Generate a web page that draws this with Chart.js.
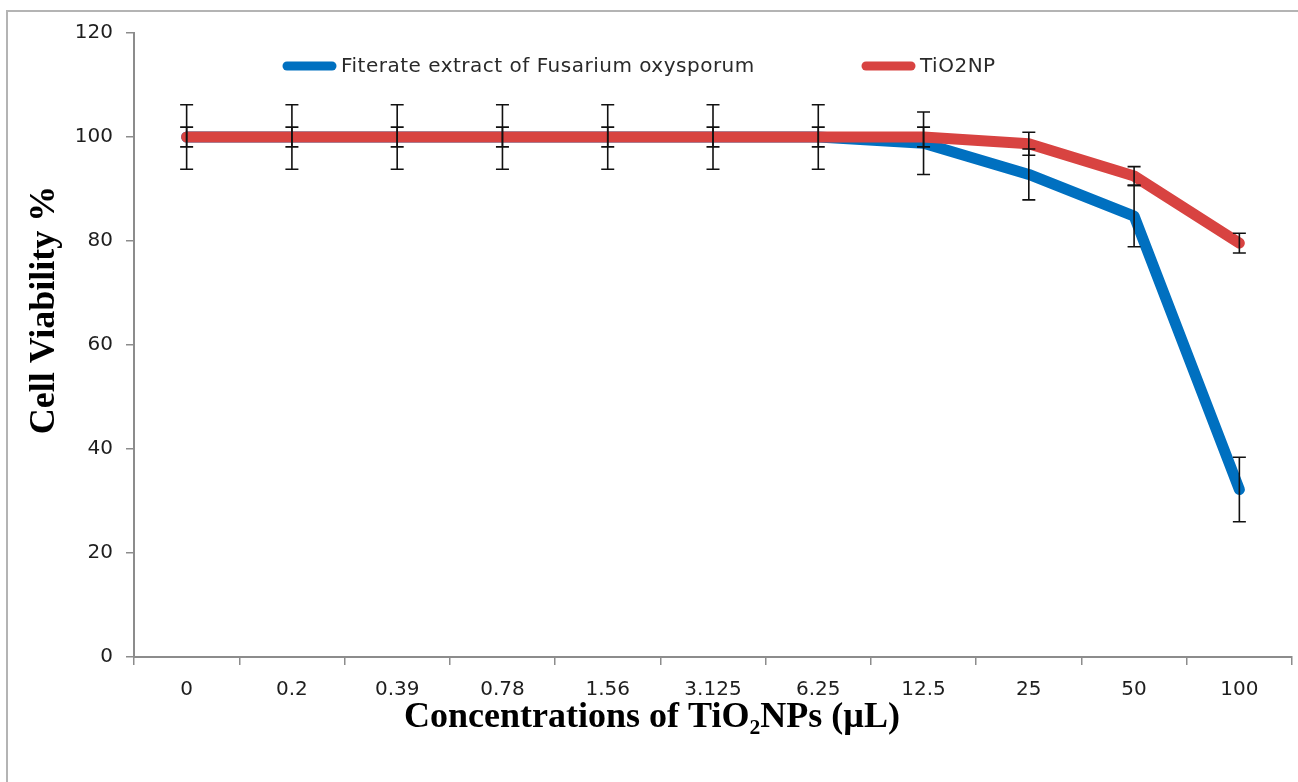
<!DOCTYPE html>
<html>
<head>
<meta charset="utf-8">
<title>Cell Viability</title>
<script src="https://cdn.jsdelivr.net/npm/chart.js@4.4.1/dist/chart.umd.min.js"></script>
<style>
    body { margin: 0; background: #fff; }
    #wrap { position: relative; width: 1298px; height: 782px; overflow: hidden; }
    #frame { position: absolute; left: 6px; top: 10px; width: 1400px; height: 900px; border-top: 2px solid #b4b4b4; border-left: 2px solid #b4b4b4; }
    canvas { position: absolute; left: 0; top: 0; }
</style>
</head>
<body>
<div id="wrap">
    <div id="frame"></div>
    <canvas id="viabilityChart" width="1298" height="782"></canvas>
</div>
<script>
const concentrations = ['0', '0.2', '0.39', '0.78', '1.56', '3.125', '6.25', '12.5', '25', '50', '100'];
const fusariumValues = [100, 100, 100, 100, 100, 100, 100, 98.8, 92.8, 84.8, 32.2];
const fusariumErrors = [6.2, 6.2, 6.2, 6.2, 6.2, 6.2, 6.2, 6.0, 4.9, 5.9, 6.2];
const tio2Values = [100, 100, 100, 100, 100, 100, 100, 100, 98.7, 92.5, 79.6];
const tio2Errors = [1.9, 1.9, 1.9, 1.9, 1.9, 1.9, 1.9, 1.9, 2.2, 1.8, 1.9];
const yTicks = [0, 20, 40, 60, 80, 100, 120];

const BLUE = '#0070c0';
const RED = '#d84341';
const AXIS_GREY = '#8c8c8c';

// error bars, drawn on top of the lines
const errorBars = {
    id: 'errorBars',
    afterDatasetsDraw(chart) {
        const ctx = chart.ctx;
        const x = chart.scales.x;
        const y = chart.scales.y;
        ctx.save();
        ctx.strokeStyle = '#111';
        ctx.lineWidth = 1.6;
        chart.data.datasets.forEach(ds => {
            ds.data.forEach((v, i) => {
                const px = x.getPixelForValue(i);
                const top = y.getPixelForValue(v + ds.errors[i]);
                const bot = y.getPixelForValue(v - ds.errors[i]);
                ctx.beginPath();
                ctx.moveTo(px, top); ctx.lineTo(px, bot);
                ctx.moveTo(px - 6.5, top); ctx.lineTo(px + 6.5, top);
                ctx.moveTo(px - 6.5, bot); ctx.lineTo(px + 6.5, bot);
                ctx.stroke();
            });
        });
        ctx.restore();
    }
};

// legend sits inside the plot, plus the two axis titles
const decorations = {
    id: 'decorations',
    afterDraw(chart) {
        const ctx = chart.ctx;
        ctx.save();
        const items = [
            { label: 'Fiterate extract of Fusarium oxysporum', color: BLUE, x: 283 },
            { label: 'TiO2NP', color: RED, x: 862 }
        ];
        items.forEach(item => {
            ctx.strokeStyle = item.color;
            ctx.lineWidth = 9;
            ctx.lineCap = 'round';
            ctx.beginPath();
            ctx.moveTo(item.x + 4, 66);
            ctx.lineTo(item.x + 49, 66);
            ctx.stroke();
            ctx.fillStyle = '#2a2a2a';
            ctx.font = '20px "DejaVu Sans"';
            ctx.letterSpacing = '0.5px';
            ctx.textBaseline = 'middle';
            ctx.textAlign = 'left';
            ctx.fillText(item.label, item.x + 58, 67);
        });
        ctx.letterSpacing = '0px';

        ctx.fillStyle = '#000';
        ctx.font = 'bold 36px "Liberation Serif"';
        ctx.textAlign = 'center';
        ctx.textBaseline = 'middle';
        ctx.fillText('Concentrations of TiO\u2082NPs (\u00b5L)', 652, 718);

        ctx.translate(45, 310);
        ctx.rotate(-Math.PI / 2);
        ctx.fillText('Cell Viability %', 0, 0);
        ctx.restore();
    }
};

const ctx = document.getElementById('viabilityChart').getContext('2d');
const viabilityChart = new Chart(ctx, {
    type: 'line',
    data: {
        labels: concentrations,
        datasets: [{
            label: 'Fiterate extract of Fusarium oxysporum',
            data: fusariumValues,
            errors: fusariumErrors,
            borderColor: BLUE,
            backgroundColor: BLUE,
            borderWidth: 11,
            borderCapStyle: 'round',
            borderJoinStyle: 'round',
            pointRadius: 0,
            tension: 0,
            order: 1
        }, {
            label: 'TiO2NP',
            data: tio2Values,
            errors: tio2Errors,
            borderColor: RED,
            backgroundColor: RED,
            borderWidth: 11,
            borderCapStyle: 'round',
            borderJoinStyle: 'round',
            pointRadius: 0,
            tension: 0,
            order: 0
        }]
    },
    options: {
        responsive: false,
        animation: false,
        layout: { padding: { left: 0, right: 6, top: 33, bottom: 0 } },
        plugins: {
            legend: { display: false },
            tooltip: { enabled: false }
        },
        scales: {
            x: {
                offset: true,
                afterFit: scale => { scale.height = 782 - 657; },
                grid: { offset: true, drawOnChartArea: false, tickLength: 8, color: AXIS_GREY, lineWidth: 1.5 },
                border: { color: AXIS_GREY, width: 2 },
                ticks: { color: '#1e1e1e', font: { family: 'DejaVu Sans', size: 20 }, padding: 13, maxRotation: 0 }
            },
            y: {
                min: 0,
                max: 120,
                afterFit: scale => { scale.width = 134; },
                afterBuildTicks: scale => { scale.ticks = yTicks.map(v => ({ value: v })); },
                grid: { drawOnChartArea: false, tickLength: 8, color: AXIS_GREY, lineWidth: 1.5 },
                border: { color: AXIS_GREY, width: 2 },
                ticks: { color: '#1e1e1e', font: { family: 'DejaVu Sans', size: 20 }, padding: 13 }
            }
        }
    },
    plugins: [errorBars, decorations]
});
</script>
</body>
</html>
